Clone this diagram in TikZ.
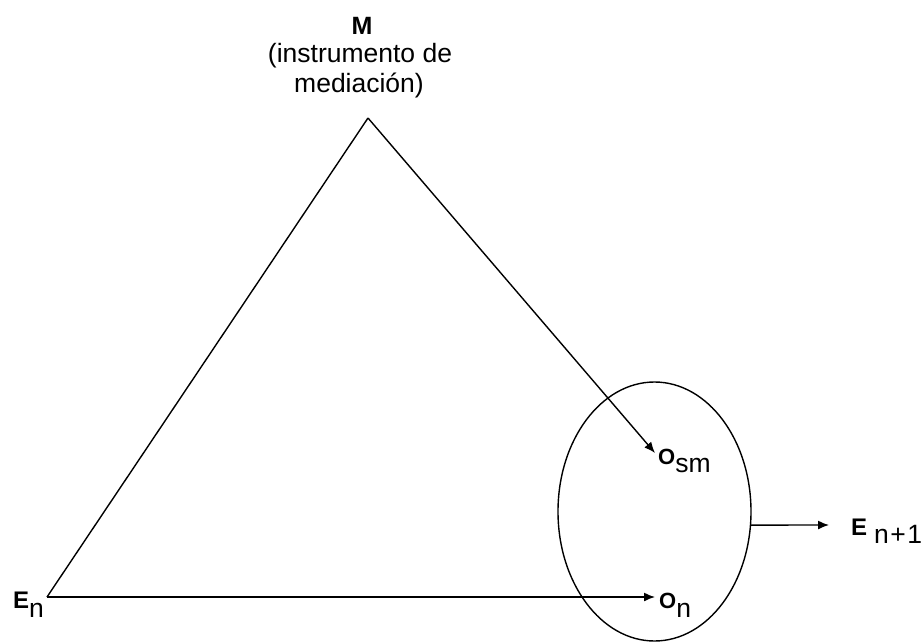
\documentclass[tikz,border=0pt]{standalone}
\usepackage{fontspec}
\setmainfont{Liberation Sans}
\usetikzlibrary{arrows.meta,shapes.geometric}
\newcommand{\bigsub}[2]{{\fontsize{#1}{#1}\selectfont\textbf{#2}}}
\begin{document}
\begin{tikzpicture}[x=1pt,y=-1pt,
  conn/.style={line width=1.4pt},
  arr/.style={conn,-{Latex[length=11pt,width=9pt]}},
  lab/.style={inner sep=0pt,anchor=base west,font=\fontsize{26.5}{30}\selectfont},
  mline/.style={inner sep=0pt,anchor=base,font=\fontsize{26.5}{30}\selectfont}]
\useasboundingbox (0,0) rectangle (924,643);
% vertices
\coordinate (apex) at (368,118);
\coordinate (en) at (47,597);
\coordinate (osmtip) at (655,453);
\coordinate (ontip) at (655,597);
\coordinate (enpotip) at (829,525);
% labels
\node[mline] (mlab) at (362,34) {\bigsub{25}{M}};
\node[mline] (mlab2) at (360,62) {(instrumento de};
\node[mline] (mlab3) at (359,92) {mediación)};
\node[lab] (enlab) at (13,608)
  {\bigsub{24}{E}\raisebox{-9pt}{n}};
\node[lab] (osmlab) at (658,464)
  {\bigsub{22}{O}\raisebox{-8pt}{sm}};
\node[lab] (onlab) at (659,608)
  {\bigsub{22}{O}\raisebox{-9pt}{n}};
\node[lab] (enplab) at (851,535)
  {\bigsub{24}{E}\hspace{7pt}\raisebox{-8pt}{n\kern1.5pt+\kern1.5pt1}};
% ellipse
\node[draw,ellipse,line width=1.4pt,minimum width=193pt,minimum height=259pt,inner sep=0pt] (ell) at (654.5,511.5) {};
% connectors
\draw[conn] (en) -- (apex);
\draw[arr] (apex) -- (osmtip);
\draw[arr] (en) -- (ontip);
\draw[arr] (ell.-8.3) -- (enpotip);
\end{tikzpicture}
\end{document}
